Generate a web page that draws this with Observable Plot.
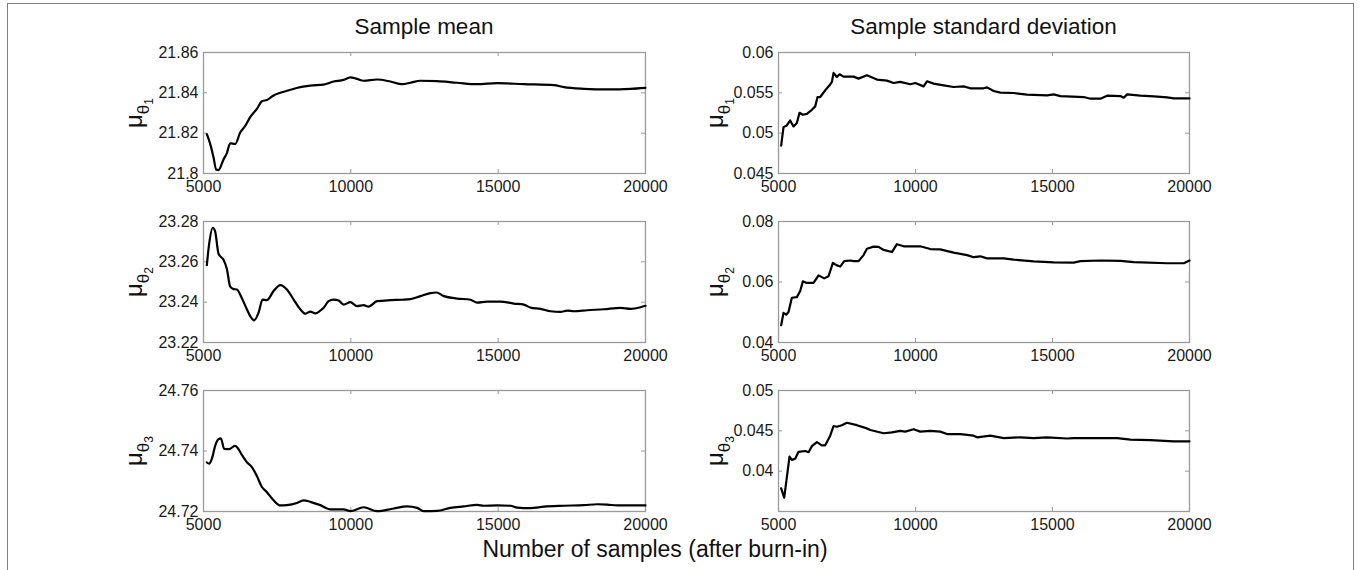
<!DOCTYPE html>
<html>
<head>
<meta charset="utf-8">
<script src="https://cdn.jsdelivr.net/npm/d3@7"></script>
<script src="https://cdn.jsdelivr.net/npm/@observablehq/plot@0.6"></script>
<style>
  html, body { margin: 0; padding: 0; background: #fff; }
  #root { position: relative; width: 1360px; height: 570px; overflow: hidden; font-family: "Liberation Sans", Arial, sans-serif; color: #111; }
  #outer { position: absolute; left: 7px; top: 3px; width: 1347px; height: 620px; border: 1.5px solid #808080; box-sizing: border-box; }
  .panel { position: absolute; }
  .title { position: absolute; font-size: 22.5px; transform: translateX(-50%); white-space: nowrap; }
  .xlabel { position: absolute; font-size: 23px; transform: translateX(-50%); white-space: nowrap; }
  .ylab { position: absolute; font-size: 24px; white-space: nowrap; transform: translate(-50%, -50%) rotate(-90deg); line-height: 1; }
  .ylab .s1 { font-size: 17px; position: relative; top: 7px; }
  .ylab .s2 { font-size: 12px; position: relative; top: 4px; }
</style>
</head>
<body>
<div id="root"><div id="outer"></div></div>
<script>
// ---------- data ----------
const xTicks = [5000, 10000, 15000, 20000];
const columnTitles = ["Sample mean", "Sample standard deviation"];
const xAxisLabel = "Number of samples (after burn-in)";
const paramIndex = ["1", "2", "3"];

// Sample mean, theta_1  [samples, value]
const meanTheta1 = [
  [5113,21.8195],[5227,21.8147],[5340,21.808],[5430,21.802],[5510,21.8017],[5680,21.807],[5790,21.810],
  [5906,21.815],[6076,21.8146],[6246,21.8203],[6416,21.8236],[6586,21.828],[6812,21.832],[6982,21.8358],
  [7152,21.8365],[7378,21.8387],[7605,21.840],[7945,21.8415],[8284,21.8428],[8624,21.8436],[9077,21.8441],
  [9417,21.8456],[9757,21.8464],[9983,21.8477],[10209,21.8469],[10436,21.846],[10889,21.8466],[11342,21.8456],
  [11738,21.8443],[12021,21.845],[12361,21.846],[12927,21.8458],[13607,21.845],[14286,21.8443],[14966,21.8448],
  [15872,21.8443],[16891,21.8438],[17231,21.8428],[17911,21.842],[18703,21.8417],[19496,21.842],[20000,21.8425]
];
const meanTheta1Ticks = [21.8, 21.82, 21.84, 21.86];

// Sample mean, theta_2
const meanTheta2 = [
  [5113,23.2583],[5193,23.269],[5317,23.2769],[5396,23.275],[5510,23.264],[5680,23.261],[5793,23.2565],
  [5906,23.2477],[6019,23.2465],[6133,23.2463],[6302,23.2420],[6472,23.2365],[6586,23.2331],[6722,23.231],
  [6869,23.2348],[7005,23.2413],[7152,23.241],[7378,23.2455],[7605,23.2485],[7831,23.2463],[8058,23.2413],
  [8284,23.2365],[8454,23.2343],[8624,23.2353],[8794,23.2344],[8964,23.2358],[9077,23.2372],[9247,23.2405],
  [9417,23.2413],[9587,23.2408],[9757,23.2388],[9983,23.240],[10209,23.238],[10436,23.2385],[10606,23.2378],
  [10889,23.2405],[11342,23.241],[11738,23.2412],[12021,23.2415],[12361,23.243],[12701,23.2445],[12905,23.2448],
  [13154,23.243],[13607,23.2418],[14060,23.2412],[14286,23.2398],[14626,23.2403],[15079,23.2403],[15532,23.2393],
  [15872,23.2388],[16099,23.2373],[16439,23.2367],[16778,23.2355],[17118,23.2352],[17345,23.2358],[17571,23.2355],
  [18024,23.236],[18590,23.2365],[19156,23.2372],[19496,23.2367],[19836,23.2375],[20000,23.2382]
];
const meanTheta2Ticks = [23.22, 23.24, 23.26, 23.28];

// Sample mean, theta_3
const meanTheta3 = [
  [5113,24.7362],[5193,24.7358],[5295,24.7378],[5396,24.7417],[5510,24.7439],[5589,24.7442],[5702,24.7407],
  [5872,24.7406],[6065,24.7417],[6156,24.7411],[6302,24.7387],[6472,24.7363],[6642,24.7347],[6812,24.7317],
  [6982,24.7281],[7152,24.7264],[7378,24.7237],[7605,24.722],[7831,24.7221],[8171,24.7228],[8397,24.7237],
  [8624,24.7232],[8964,24.7221],[9304,24.7207],[9757,24.7207],[9983,24.7201],[10436,24.7214],[10889,24.7201],
  [11455,24.721],[11908,24.7217],[12248,24.7212],[12474,24.7201],[12927,24.7202],[13380,24.7212],[13833,24.7217],
  [14286,24.7222],[14513,24.7219],[14966,24.722],[15419,24.7219],[15645,24.7213],[16099,24.7211],[16552,24.7216],
  [17231,24.7219],[17911,24.7221],[18364,24.7224],[18703,24.7223],[19043,24.722],[20000,24.722]
];
const meanTheta3Ticks = [24.72, 24.74, 24.76];

// Sample standard deviation, theta_1
const sdTheta1 = [
  [5097,0.04846],[5183,0.05075],[5304,0.05096],[5426,0.05158],[5548,0.05083],[5670,0.05125],[5767,0.05253],
  [5889,0.05228],[6035,0.0524],[6218,0.0529],[6340,0.05332],[6425,0.05448],[6522,0.05448],[6705,0.05531],
  [6863,0.05593],[6948,0.05635],[7009,0.05747],[7131,0.05697],[7228,0.0573],[7374,0.05701],[7740,0.05701],
  [7922,0.05676],[8227,0.05718],[8592,0.05664],[8957,0.05651],[9201,0.05622],[9444,0.05635],[9810,0.05606],
  [9992,0.05622],[10296,0.0558],[10418,0.05643],[10662,0.05614],[11027,0.05593],[11393,0.05572],[11758,0.0558],
  [12001,0.05556],[12488,0.05556],[12610,0.05568],[12853,0.05523],[13097,0.05502],[13584,0.05498],[14071,0.05477],
  [14801,0.05469],[15045,0.05481],[15288,0.0546],[16140,0.05448],[16384,0.05427],[16749,0.05427],[16992,0.05465],
  [17479,0.0546],[17601,0.0544],[17723,0.05481],[18210,0.05465],[18697,0.05456],[19184,0.05444],[19427,0.05431],
  [20000,0.05431]
];
const sdTheta1Ticks = [0.045, 0.05, 0.055, 0.06];

// Sample standard deviation, theta_2
const sdTheta2 = [
  [5097,0.0457],[5183,0.0498],[5280,0.0492],[5365,0.0501],[5487,0.0548],[5670,0.0550],[5792,0.0570],
  [5889,0.0602],[6035,0.0597],[6279,0.0597],[6462,0.0622],[6668,0.0612],[6826,0.0619],[6985,0.0663],
  [7131,0.0655],[7253,0.0651],[7399,0.0669],[7618,0.0671],[7740,0.0669],[7922,0.0669],[8105,0.0689],
  [8227,0.0710],[8470,0.0717],[8653,0.0716],[8836,0.0706],[9140,0.0699],[9322,0.0725],[9566,0.0718],
  [10174,0.0718],[10540,0.0709],[10905,0.0708],[11393,0.0697],[11880,0.0689],[12123,0.0682],[12366,0.0685],
  [12610,0.0678],[13219,0.0678],[13584,0.0674],[14314,0.0668],[15045,0.0665],[15775,0.0664],[16019,0.0669],
  [16749,0.0671],[17479,0.067],[17966,0.0666],[19184,0.0662],[19793,0.0662],[20000,0.0671]
];
const sdTheta2Ticks = [0.04, 0.06, 0.08];

// Sample standard deviation, theta_3
const sdTheta3 = [
  [5097,0.03787],[5207,0.0367],[5402,0.0418],[5487,0.0414],[5609,0.04155],[5731,0.0424],[5974,0.0425],
  [6096,0.04235],[6218,0.0431],[6401,0.0436],[6583,0.0432],[6705,0.0432],[6887,0.0444],[7009,0.0456],
  [7131,0.0455],[7313,0.0457],[7496,0.0460],[7861,0.0457],[8227,0.0453],[8349,0.0451],[8836,0.0447],
  [9140,0.0448],[9444,0.0450],[9627,0.0449],[9932,0.0452],[10174,0.0449],[10540,0.0450],[10905,0.0449],
  [11149,0.0446],[11636,0.0446],[12123,0.0444],[12245,0.0442],[12731,0.0444],[13219,0.0441],[13827,0.0442],
  [14314,0.0441],[14801,0.0442],[15532,0.04405],[15775,0.0441],[17357,0.0441],[17844,0.0439],[18575,0.04385],
  [19427,0.0437],[20000,0.0437]
];
const sdTheta3Ticks = [0.04, 0.045, 0.05];
const sdTheta3Domain = [0.035, 0.05];

// ---------- layout ----------
const colLeft = [203, 778];
const colWidth = [442, 411];
const rowTop = [52, 221, 390];
const boxH = 121;
const mL = 72, mR = 22, mT = 10, mB = 28;

const panels = [
  {col: 0, row: 0, data: meanTheta1, ticks: meanTheta1Ticks, domain: [21.8, 21.86], curve: "monotone-x"},
  {col: 0, row: 1, data: meanTheta2, ticks: meanTheta2Ticks, domain: [23.22, 23.28], curve: "monotone-x"},
  {col: 0, row: 2, data: meanTheta3, ticks: meanTheta3Ticks, domain: [24.72, 24.76], curve: "monotone-x"},
  {col: 1, row: 0, data: sdTheta1, ticks: sdTheta1Ticks, domain: [0.045, 0.06], curve: "linear"},
  {col: 1, row: 1, data: sdTheta2, ticks: sdTheta2Ticks, domain: [0.04, 0.08], curve: "linear"},
  {col: 1, row: 2, data: sdTheta3, ticks: sdTheta3Ticks, domain: sdTheta3Domain, curve: "linear"}
];

const root = document.getElementById("root");
const fmtY = d => String(+d.toFixed(4));

for (const p of panels) {
  const bw = colWidth[p.col];
  const rows = p.data.map(([x, y]) => ({x, y}));
  const chart = Plot.plot({
    width: mL + bw + mR,
    height: mT + boxH + mB,
    marginLeft: mL, marginRight: mR, marginTop: mT, marginBottom: mB,
    style: {fontFamily: '"Liberation Sans", Arial, sans-serif', fontSize: "16px", color: "#1a1a1a", background: "transparent", overflow: "visible"},
    x: {domain: [5000, 20000]},
    y: {domain: p.domain},
    marks: [
      Plot.tickY(p.ticks, {y: d => d, insetRight: bw - 4, stroke: "#999", strokeWidth: 1}),
      Plot.tickY(p.ticks, {y: d => d, insetLeft: bw - 4, stroke: "#999", strokeWidth: 1}),
      Plot.tickX(xTicks, {x: d => d, insetTop: boxH - 4, stroke: "#999", strokeWidth: 1}),
      Plot.tickX(xTicks, {x: d => d, insetBottom: boxH - 4, stroke: "#999", strokeWidth: 1}),
      Plot.frame({stroke: "#9a9a9a", strokeWidth: 1.3}),
      Plot.axisX(xTicks, {tickSize: 0, tickPadding: 7, tickFormat: d3.format("d"), label: null, fontSize: 16}),
      Plot.axisY(p.ticks, {tickSize: 0, tickPadding: 5, tickFormat: fmtY, label: null, fontSize: 16}),
      Plot.line(rows, {x: "x", y: "y", stroke: "#000", strokeWidth: 2.2, curve: p.curve, strokeLinejoin: "round"})
    ]
  });
  chart.classList.add("panel");
  chart.style.left = (colLeft[p.col] - mL) + "px";
  chart.style.top = (rowTop[p.row] - mT) + "px";
  root.appendChild(chart);
}

// titles
columnTitles.forEach((t, i) => {
  const d = document.createElement("div");
  d.className = "title";
  d.textContent = t;
  d.style.left = (colLeft[i] + colWidth[i] / 2) + "px";
  d.style.top = "14px";
  root.appendChild(d);
});

// y labels: mu_{theta_k}
const yLabX = [134, 715];
for (let c = 0; c < 2; c++) {
  for (let r = 0; r < 3; r++) {
    const d = document.createElement("div");
    d.className = "ylab";
    d.innerHTML = 'μ<span class="s1">θ<span class="s2">' + paramIndex[r] + '</span></span>';
    d.style.left = yLabX[c] + "px";
    d.style.top = (rowTop[r] + boxH / 2) + "px";
    root.appendChild(d);
  }
}

// x label
const xl = document.createElement("div");
xl.className = "xlabel";
xl.textContent = xAxisLabel;
xl.style.left = "655px";
xl.style.top = "536px";
root.appendChild(xl);
</script>
</body>
</html>
